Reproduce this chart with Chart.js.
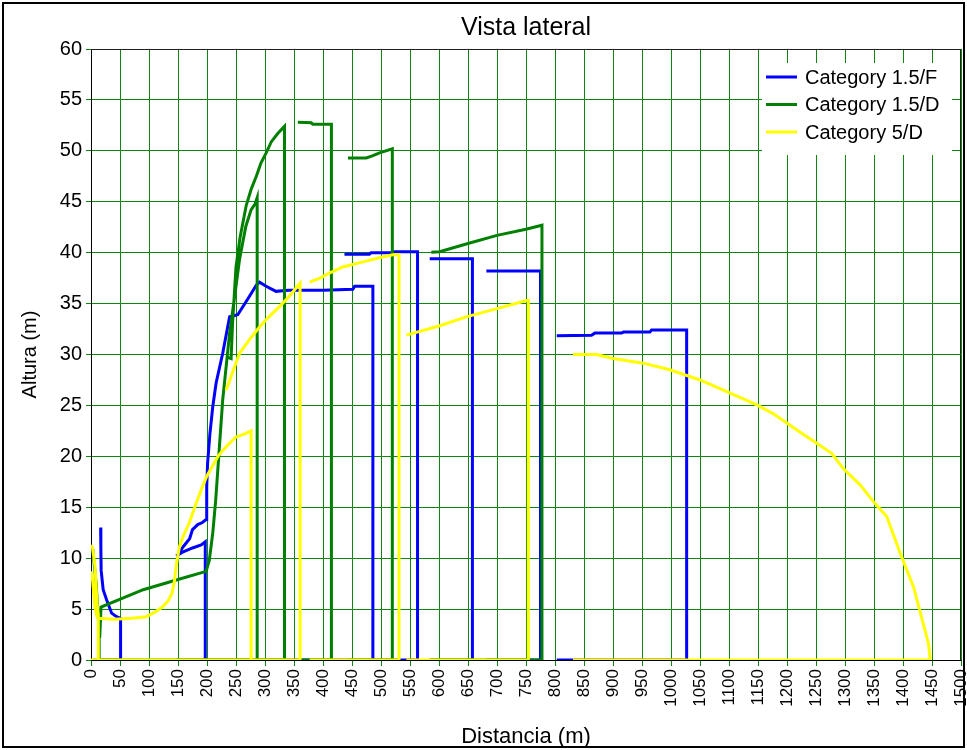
<!DOCTYPE html>
<html><head><meta charset="utf-8">
<script src="https://cdn.jsdelivr.net/npm/chart.js@4.4.0/dist/chart.umd.min.js"></script>
<style>html,body{margin:0;padding:0;background:#fff;}canvas{display:block;}</style>
</head><body>
<canvas id="c" width="967" height="750"></canvas>
<script>
const chartTitle = 'Vista lateral';
const xAxisTitle = 'Distancia (m)';
const yAxisTitle = 'Altura (m)';
const seriesNames = ['Category 1.5/F', 'Category 1.5/D', 'Category 5/D'];
const seriesColors = ['#0000ff', '#008000', '#ffff00'];
const xRange = [0, 1500, 50];
const yRange = [0, 60, 5];

// Category 1.5/F profiles [distance, height]
const blueSeg1 = [[16.6,13.0],[17.0,11.0],[17.5,8.8],[21,6.9],[27,5.9],[35.6,4.6],[44,4.25],[51,4.1]];
const blueSeg2 = [[147,10.2],[158,10.6],[175,11.0],[190,11.3],[197,11.6]];
const blueSeg3 = [[150,10.4],[160,11.2],[170,11.9],[175,12.8],[184,13.3],[192,13.5],[198.5,13.8],[199.5,17.0],[201,19.3],[205,22.2],[210,24.9],[215.7,27.2],[227,30.1],[239,33.7],[246,33.8],[253,33.9],[273,35.7],[285,36.8],[290.5,37.1],[302,36.7],[319,36.2],[340,36.3],[400,36.3],[451.5,36.4],[454.5,36.7],[486,36.7]];
const blueSeg4 = [[437,39.85],[480,39.85],[483,40.0],[518,40.0],[523,40.1],[563,40.1]];
const blueSeg5 = [[584,39.4],[657.6,39.4]];
const blueSeg6 = [[681.7,38.2],[775,38.2]];
const blueSeg7 = [[803,31.85],[863,31.9],[868.6,32.1],[914.7,32.1],[918,32.2],[963.6,32.2],[966.5,32.4],[1027,32.4]];

// Category 1.5/D profiles
const greenSeg1 = [[3,10.9],[6,9.2],[9,7.4],[12,4.6],[14,3.0]];
const greenSeg2 = [[15,2.2],[17.3,5.2],[90,6.9],[150,7.9],[198.5,8.7],[204,9.8],[210,12.5],[215,15.7],[221,20.6],[227,25.5],[239,32.1],[247,35.4],[256,39.3],[267,42.6],[276,44.2],[283,44.8],[286.5,45.4]];
const greenSeg3 = [[233,29.8],[241.6,29.6],[244,33.0],[250,38.6],[257,41.5],[267.5,44.6],[276,46.2],[285,47.5],[293,48.8],[302,49.8],[311,50.9],[322,51.7],[333.6,52.4]];
const greenSeg4 = [[356.6,52.8],[379.7,52.75],[382.5,52.6],[414.5,52.6]];
const greenSeg5 = [[443,49.3],[474.6,49.3],[485,49.5],[497.6,49.8],[519.5,50.2]];
const greenSeg6 = [[586.8,40.05],[601,40.1],[650,40.9],[700,41.7],[750,42.3],[777.5,42.7]];

// Category 5/D profiles
const yellowSeg1 = [[0,11.3],[2.8,11.0],[6.9,9.2],[9,7.0],[11,5.2],[12.6,4.5]];
const yellowSeg2 = [[0,8.7],[2,8.3],[6.9,5.2],[10,4.3],[12.6,4.1],[40,4.0],[70,4.1],[95,4.25],[110,4.7],[123,5.2],[133,5.8],[140,6.6],[144,7.8],[146.7,9.2],[152.4,11.1],[160,12.3],[169.7,13.5],[180,15.2],[192,17.0],[200,18.1],[209,19.0],[220,20.1],[233,20.95],[250,21.9],[265,22.2],[276,22.5]];
const yellowSeg3 = [[233,26.5],[247.5,28.8],[256,30.1],[275,31.6],[290.5,32.7],[305,33.6],[325,34.7],[340,35.6],[360.5,37.0]];
const yellowSeg4 = [[377,37.1],[395,37.5],[411,38.0],[434,38.6],[469,39.1],[497,39.5],[520,39.8],[531,39.8]];
const yellowSeg5 = [[543.7,31.9],[600,32.8],[647,33.7],[700,34.5],[750.8,35.3],[754,35.3]];
const yellowSeg6 = [[831,30.0],[871.6,30.0],[900,29.6],[952,29.15],[998,28.5],[1050,27.5],[1102,26.2],[1148,25.05],[1176,24.2],[1222,22.4],[1248,21.4],[1277,20.3],[1297,18.8],[1326,17.2],[1349,15.55],[1372,14.1],[1395,10.5],[1418,7.2],[1444,1.6],[1447,0]];

const blueSegs = [blueSeg1, blueSeg2, blueSeg3, blueSeg4, blueSeg5, blueSeg6, blueSeg7];
const greenSegs = [greenSeg1, greenSeg2, greenSeg3, greenSeg4, greenSeg5, greenSeg6];
const yellowSegs = [yellowSeg1, yellowSeg2, yellowSeg3, yellowSeg4, yellowSeg5, yellowSeg6];

// each section: profile, drop to ground at its end, ground line back to its start, then a break
function outline(segs) {
  const out = [];
  segs.forEach(seg => {
    seg.forEach(([x, y]) => out.push({x, y}));
    const x0 = seg[0][0], x1 = seg[seg.length - 1][0];
    out.push({x: x1, y: 0});
    out.push({x: x0, y: 0});
    out.push({x: x0, y: null});
  });
  return out;
}

const FONT = "'Liberation Sans', Arial, sans-serif";
const GRID = '#0f870f';

const decor = {
  id: 'decor',
  beforeDraw(chart) {
    const ctx = chart.ctx;
    ctx.save();
    ctx.fillStyle = '#fff';
    ctx.fillRect(0, 0, chart.width, chart.height);
    ctx.restore();
  },
  beforeDatasetsDraw(chart) {
    const {ctx, chartArea: a} = chart;
    ctx.save();
    ctx.strokeStyle = '#222';
    ctx.lineWidth = 1;
    ctx.beginPath();
    ctx.moveTo(a.left, Math.round(a.top) + 0.5);
    ctx.lineTo(Math.round(a.right) - 0.5, Math.round(a.top) + 0.5);
    ctx.lineTo(Math.round(a.right) - 0.5, a.bottom);
    ctx.stroke();
    ctx.restore();
  },
  afterDraw(chart) {
    const {ctx, chartArea: a} = chart;
    ctx.save();
    // title
    ctx.fillStyle = '#000';
    ctx.font = `25px ${FONT}`;
    ctx.textAlign = 'center';
    ctx.textBaseline = 'middle';
    ctx.fillText(chartTitle, (a.left + a.right) / 2, 28);
    // legend
    const lx = a.right - 199, ly = a.top + 14;
    ctx.fillStyle = '#fff';
    ctx.fillRect(lx, ly, 190, 92);
    ctx.font = `20px ${FONT}`;
    ctx.textAlign = 'left';
    chart.data.datasets.forEach((ds, i) => {
      const yy = ly + 14 + i * 27.5;
      ctx.strokeStyle = ds.borderColor;
      ctx.lineWidth = 3;
      ctx.beginPath();
      ctx.moveTo(lx + 4, yy);
      ctx.lineTo(lx + 35, yy);
      ctx.stroke();
      ctx.fillStyle = '#000';
      ctx.fillText(ds.label, lx + 43, yy + 1);
    });
    // outer frame
    ctx.strokeStyle = '#000';
    ctx.lineWidth = 2;
    ctx.strokeRect(3, 3, chart.width - 6, chart.height - 6);
    ctx.restore();
  }
};

const datasets = [
  {label: seriesNames[0], data: outline(blueSegs), borderColor: seriesColors[0], order: 3},
  {label: seriesNames[1], data: outline(greenSegs), borderColor: seriesColors[1], order: 2},
  {label: seriesNames[2], data: outline(yellowSegs), borderColor: seriesColors[2], order: 1}
].map(d => Object.assign(d, {showLine: true, borderWidth: 3, pointRadius: 0, spanGaps: false, fill: false, tension: 0}));

new Chart(document.getElementById('c'), {
  type: 'scatter',
  data: {datasets},
  options: {
    responsive: false,
    animation: false,
    events: [],
    layout: {padding: {top: 49, right: 6, bottom: 0, left: 0}},
    plugins: {legend: {display: false}, tooltip: {enabled: false}, title: {display: false}},
    scales: {
      x: {
        type: 'linear', min: xRange[0], max: xRange[1],
        ticks: {stepSize: xRange[2], autoSkip: false, minRotation: 90, maxRotation: 90, color: '#000',
                font: {family: FONT, size: 17}, padding: 3, callback: v => String(v)},
        grid: {color: GRID, lineWidth: 1, tickLength: 6, drawTicks: true},
        border: {color: '#000', width: 1},
        title: {display: true, text: xAxisTitle, color: '#000', font: {family: FONT, size: 22}, padding: {top: 0, bottom: 0}},
        afterFit(s) { s.height = 90; s.paddingLeft = 0; s.paddingRight = 0; }
      },
      y: {
        type: 'linear', min: yRange[0], max: yRange[1],
        ticks: {stepSize: yRange[2], color: '#000', font: {family: FONT, size: 20}, padding: 4, callback: v => String(v)},
        grid: {color: GRID, lineWidth: 1, tickLength: 5, drawTicks: true},
        border: {color: '#000', width: 1},
        title: {display: true, text: yAxisTitle, color: '#000', font: {family: FONT, size: 20}, padding: {top: 18, bottom: 0}},
        afterFit(s) { s.width = 91; s.paddingTop = 0; s.paddingBottom = 0; }
      }
    }
  },
  plugins: [decor]
});
</script>
</body></html>
